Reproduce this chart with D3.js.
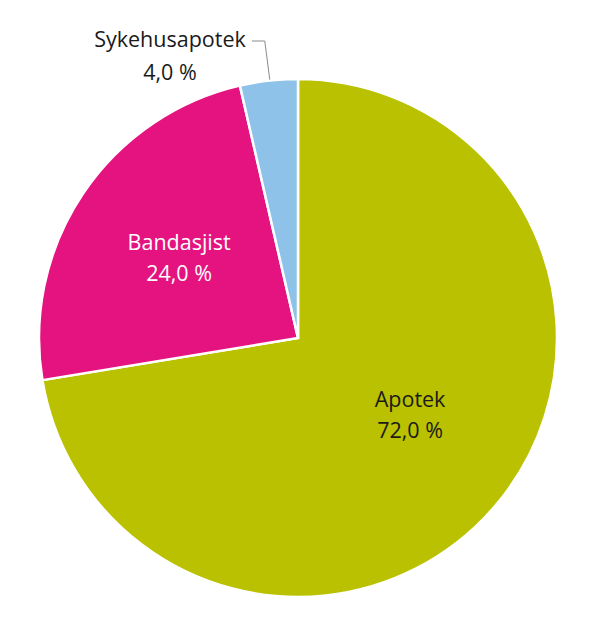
<!DOCTYPE html>
<html>
<head>
<meta charset="utf-8">
<script src="https://cdn.jsdelivr.net/npm/d3@7"></script>
<style>
  body { margin: 0; background: #fff; }
  svg text { font-family: "Open Sans", sans-serif; }
</style>
</head>
<body>
<div id="chart"></div>
<script>
// andel per kanal (prosent) - slice sizes
var categories = ['Apotek', 'Bandasjist', 'Sykehusapotek'];
var values = [72.4, 24.0, 3.6];
var valueLabels = ['72,0 %', '24,0 %', '4,0 %'];

var colors = {
  'Apotek': '#bac100',
  'Bandasjist': '#e4137f',
  'Sykehusapotek': '#8fc2e9'
};
var textColors = {
  'Apotek': '#1a1a1a',
  'Bandasjist': '#ffffff',
  'Sykehusapotek': '#1a1a1a'
};

var width = 600, height = 634;
var cx = 298, cy = 338, r = 259;
var fontSize = 21.5, lineGap = 32;

var svg = d3.select('#chart').append('svg')
  .attr('width', width)
  .attr('height', height);

var g = svg.append('g').attr('transform', 'translate(' + cx + ',' + cy + ')');

var data = categories.map(function (c, i) {
  return { name: c, value: values[i], label: valueLabels[i] };
});

var pie = d3.pie().sort(null).value(function (d) { return d.value; });
var arc = d3.arc().innerRadius(0).outerRadius(r);
var arcs = pie(data);

g.selectAll('path.slice')
  .data(arcs)
  .enter().append('path')
  .attr('class', 'slice')
  .attr('d', arc)
  .attr('fill', function (d) { return colors[d.data.name]; })
  .attr('stroke', '#fff')
  .attr('stroke-width', 2.5)
  .attr('stroke-linejoin', 'miter');

// label anchors (first baseline), polar: angle in degrees from top, radius as share of r
var labelPolar = {
  'Apotek': [121.6, 0.508],
  'Bandasjist': [306.5, 0.571]
};

arcs.filter(function (d) { return labelPolar[d.data.name]; }).forEach(function (d) {
  var lp = labelPolar[d.data.name];
  var p = d3.pointRadial(lp[0] * Math.PI / 180, lp[1] * r);
  var t = g.append('text')
    .attr('text-anchor', 'middle')
    .attr('fill', textColors[d.data.name])
    .attr('font-size', fontSize);
  t.append('tspan').attr('x', p[0]).attr('y', p[1]).text(d.data.name);
  t.append('tspan').attr('x', p[0]).attr('y', p[1] + lineGap - 1).text(d.data.label);
});

// small slice: label outside with leader line
var small = arcs.filter(function (d) { return d.data.name === 'Sykehusapotek'; })[0];
var edge = d3.arc().innerRadius(r).outerRadius(r).centroid(small);
var elbowY = -r - 38;
var lineStartX = -46;

g.append('path')
  .attr('d', d3.line()([
    [lineStartX, elbowY],
    [edge[0] - 4, elbowY],
    [edge[0] + 1, edge[1] - 1]
  ]))
  .attr('fill', 'none')
  .attr('stroke', '#8a8a8a')
  .attr('stroke-width', 1);

var st = g.append('text')
  .attr('text-anchor', 'middle')
  .attr('fill', textColors['Sykehusapotek'])
  .attr('font-size', fontSize);
st.append('tspan').attr('x', -128).attr('y', elbowY + 6).text(small.data.name);
st.append('tspan').attr('x', -128).attr('y', elbowY + 6 + 33).text(small.data.label);
</script>
</body>
</html>
